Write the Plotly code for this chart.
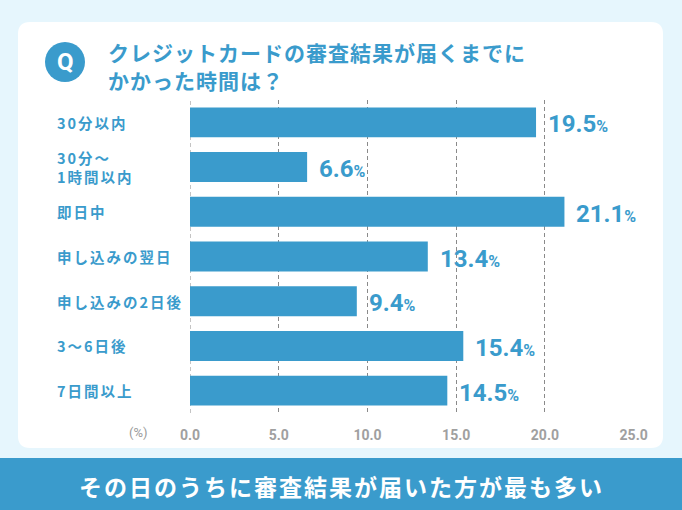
import plotly.graph_objects as go

categories = ["30分以内", "30分～<br>1時間以内", "即日中", "申し込みの翌日", "申し込みの2日後", "3～6日後", "7日間以上"]
values = [19.5, 6.6, 21.1, 13.4, 9.4, 15.4, 14.5]
tick_vals = [0, 5, 10, 15, 20, 25]
tick_text = ["0.0", "5.0", "10.0", "15.0", "20.0", "25.0"]
title_lines = ["クレジットカードの審査結果が届くまでに", "かかった時間は？"]
footer = "その日のうちに審査結果が届いた方が最も多い"

BLUE = "#3A9BCC"
FONT = "Noto Sans CJK JP"
W, H = 682, 510
ML, MR, MT, MB = 190, 48, 100, 97
PW, PH = W - ML - MR, H - MT - MB


def px(x):
    return (x - ML) / PW


def py(y):
    return (H - MB - y) / PH


def spaced(t, s):
    return "<br>".join(f"<span style='letter-spacing:{s}px'>{p}</span>" for p in t.split("<br>"))


fig = go.Figure()
fig.add_trace(go.Bar(
    x=values, y=list(range(len(categories))), orientation="h",
    marker=dict(color=BLUE, line=dict(width=0)), width=0.67,
    hoverinfo="skip",
))

shapes = []
# white rounded card
x0, x1, y0, y1, r = 18, 663, 22, 448, 12
path = (f"M {px(x0+r)},{py(y0)} L {px(x1-r)},{py(y0)} Q {px(x1)},{py(y0)} {px(x1)},{py(y0+r)} "
        f"L {px(x1)},{py(y1-r)} Q {px(x1)},{py(y1)} {px(x1-r)},{py(y1)} L {px(x0+r)},{py(y1)} "
        f"Q {px(x0)},{py(y1)} {px(x0)},{py(y1-r)} L {px(x0)},{py(y0+r)} Q {px(x0)},{py(y0)} {px(x0+r)},{py(y0)} Z")
shapes.append(dict(type="path", path=path, xref="paper", yref="paper",
                   fillcolor="white", line=dict(width=0), layer="below"))
# bottom banner
shapes.append(dict(type="rect", xref="paper", yref="paper", x0=px(0), x1=px(W),
                   y0=py(H), y1=py(458), fillcolor=BLUE, line=dict(width=0), layer="below"))
# zero gridline (dashed)
shapes.append(dict(type="line", xref="x", yref="paper", x0=0, x1=0, y0=0, y1=1,
                   line=dict(color="#8A8A8A", width=1, dash="4px,3px"), layer="below"))
# Q circle
cx, cy, cr = 65, 62, 20
shapes.append(dict(type="circle", xref="paper", yref="paper",
                   x0=px(cx - cr), x1=px(cx + cr), y0=py(cy + cr), y1=py(cy - cr),
                   fillcolor=BLUE, line=dict(width=0)))

ann = []
ann.append(dict(text="<b>Q</b>", x=px(cx), y=py(cy), xref="paper", yref="paper",
                xanchor="center", yanchor="middle",
                showarrow=False, font=dict(color="white", size=24, family="Roboto")))
for i, line in enumerate(title_lines):
    ann.append(dict(text=f"<b>{spaced(line, 1)}</b>", x=px(106), y=py(52 + 28 * i),
                    xref="paper", yref="paper", xanchor="left", yanchor="middle",
                    showarrow=False, font=dict(color=BLUE, size=21, family=FONT)))
for i, c in enumerate(categories):
    ann.append(dict(text=f"<b>{spaced(c, 2)}</b>", x=px(55), y=i, xref="paper", yref="y",
                    xanchor="left", yanchor="middle", align="left", showarrow=False,
                    font=dict(color=BLUE, size=14.5, family=FONT)))
for i, v in enumerate(values):
    ann.append(dict(text=f"<b><span style='font-size:24px'>{v:.1f}</span><span style='font-size:16px'>%</span></b>",
                    x=v, y=i, xref="x", yref="y", xanchor="left", yanchor="middle",
                    xshift=10, yshift=-2, showarrow=False,
                    font=dict(color=BLUE, size=24, family="Roboto")))
ann.append(dict(text="(%)", x=px(138), y=py(432), xref="paper", yref="paper",
                xanchor="center", yanchor="middle",
                showarrow=False, font=dict(color="#9A9A9A", size=13, family="Roboto")))
ann.append(dict(text=f"<b>{spaced(footer, 2)}</b>", x=px(W / 2), y=py(486), xref="paper", yref="paper",
                xanchor="center", yanchor="middle",
                showarrow=False, font=dict(color="white", size=23, family=FONT)))

fig.update_layout(
    width=W, height=H, paper_bgcolor="#E6F6FD", plot_bgcolor="rgba(0,0,0,0)",
    margin=dict(l=ML, r=MR, t=MT, b=MB),
    showlegend=False, shapes=shapes, annotations=ann,
    xaxis=dict(range=[0, 25.02], tickvals=tick_vals, ticktext=tick_text,
               showgrid=True, gridcolor="#8A8A8A", griddash="4px,3px", gridwidth=1,
               zeroline=False, showline=False, ticks="",
               tickfont=dict(color="#A0A0A0", size=14, family="Roboto", weight="bold"),
               ticklabelstandoff=12),
    yaxis=dict(range=[len(categories) - 0.5, -0.5], showticklabels=False,
               showgrid=False, zeroline=False),
    bargap=0.33,
)
fig.write_html("out.html", config={"displayModeBar": False},
               post_script="document.body.style.margin='0';")
